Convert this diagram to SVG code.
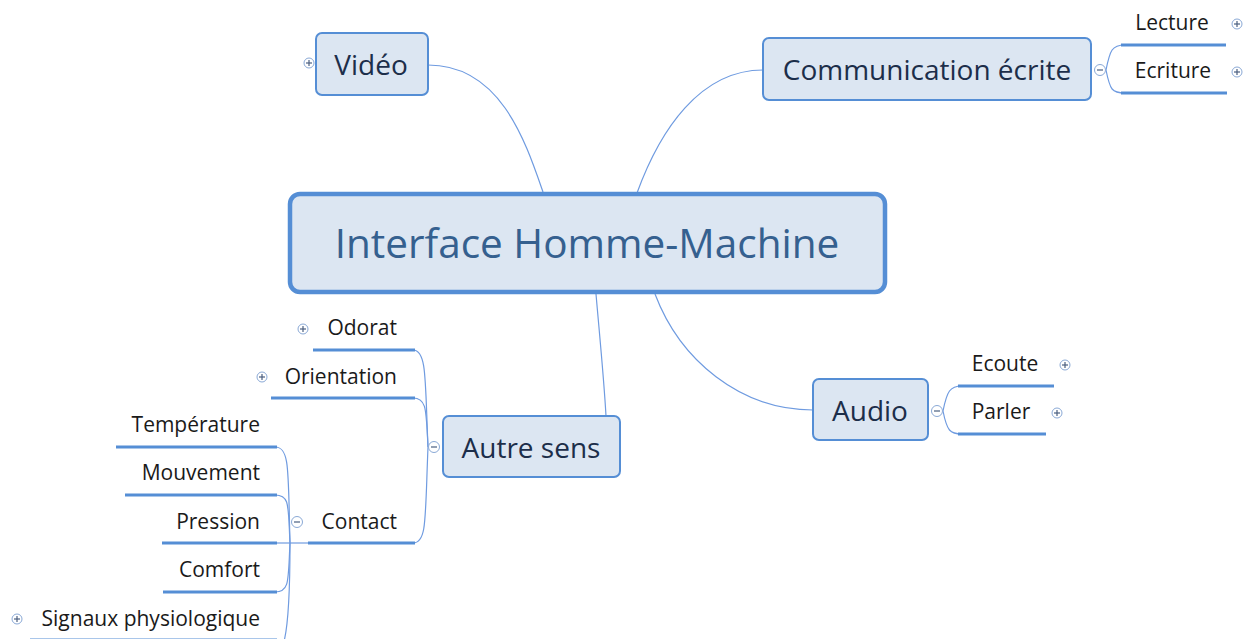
<svg xmlns="http://www.w3.org/2000/svg" width="1244" height="639" viewBox="0 0 1244 639">
<style>
.bg{fill:#ffffff}
.main{fill:#dce6f2;stroke:#558ed5;stroke-width:2}
.central{fill:#dce6f2;stroke:#558ed5;stroke-width:4.5}
.conn{fill:none;stroke:#6f9be0;stroke-width:1.2}
.ul{fill:none;stroke:#558ed5;stroke-width:3}
.t{font-family:"Open Sans","Liberation Sans",sans-serif}
.ct{font-size:40.5px;fill:#35608f;text-anchor:middle}
.mt{font-size:28px;fill:#1c2e4a;text-anchor:middle}
.st{font-size:21px;fill:#1a1a1a}
.ic{fill:#ffffff;stroke:#8aa9d6;stroke-width:1}
.icl{stroke:#4a5f80;stroke-width:1.2}
</style>
<defs>
<g id="plus"><circle class="ic" cx="0" cy="0" r="5"/><line class="icl" x1="-3" y1="0" x2="3" y2="0"/><line class="icl" x1="0" y1="-3" x2="0" y2="3"/></g>
<g id="minus"><circle class="ic" cx="0" cy="0" r="5.5"/><line class="icl" x1="-3" y1="0" x2="3" y2="0"/></g>
</defs>
<rect class="bg" x="0" y="0" width="1244" height="639"/>
<g id="connectors">
<path class="conn" d="M428,65 C500,65 525,140 543,192"/>
<path class="conn" d="M763,70 C700,70 660,130 637,193"/>
<path class="conn" d="M655,294 C680,360 740,410 813,410"/>
<path class="conn" d="M596,294 C600,340 604,380 606,416"/>
<path class="conn" d="M1106,70 C1110,50 1112,45 1125,45"/>
<path class="conn" d="M1106,70 C1110,90 1112,93 1125,93"/>
<path class="conn" d="M943,411 C947,391 950,386 962,386"/>
<path class="conn" d="M943,411 C947,431 950,434 962,434"/>
<path class="conn" d="M428,447 C425,380 427,350 413,350"/>
<path class="conn" d="M428,447 C426,410 427,398 413,398"/>
<path class="conn" d="M428,447 C425,520 427,543 413,543"/>
<path class="conn" d="M308,543 L277,543"/>
<path class="conn" d="M290,543 C288,470 290,447 275,447"/>
<path class="conn" d="M290,543 C288,505 290,495 275,495"/>
<path class="conn" d="M290,543 C288,580 290,592 275,592"/>
<path class="conn" d="M290,543 C290,600 288,630 283,645"/>
</g>
<g id="central">
<rect class="central" x="290" y="194" width="595" height="98" rx="10"/>
<text class="t ct" x="587" y="258">Interface Homme-Machine</text>
</g>
<g id="video">
<rect class="main" x="316" y="33" width="112" height="62" rx="6"/>
<text class="t mt" x="371" y="75">Vidéo</text>
<use href="#plus" x="309" y="63"/>
</g>
<g id="communication">
<rect class="main" x="763" y="38" width="328" height="62" rx="6"/>
<text class="t mt" x="927" y="80">Communication écrite</text>
<use href="#minus" x="1100" y="70"/>
</g>
<g id="lecture">
<text class="t st" x="1172" y="30" text-anchor="middle">Lecture</text>
<line class="ul" x1="1121" y1="45" x2="1226" y2="45"/>
<use href="#plus" x="1237" y="24"/>
</g>
<g id="ecriture">
<text class="t st" x="1173" y="78" text-anchor="middle">Ecriture</text>
<line class="ul" x1="1121" y1="93" x2="1227" y2="93"/>
<use href="#plus" x="1237" y="72"/>
</g>
<g id="audio">
<rect class="main" x="813" y="379" width="115" height="61" rx="6"/>
<text class="t mt" x="870" y="421">Audio</text>
<use href="#minus" x="937" y="411"/>
</g>
<g id="ecoute">
<text class="t st" x="1005" y="371" text-anchor="middle">Ecoute</text>
<line class="ul" x1="958" y1="386" x2="1054" y2="386"/>
<use href="#plus" x="1065" y="365"/>
</g>
<g id="parler">
<text class="t st" x="1001" y="419" text-anchor="middle">Parler</text>
<line class="ul" x1="958" y1="434" x2="1046" y2="434"/>
<use href="#plus" x="1057" y="413"/>
</g>
<g id="autre-sens">
<rect class="main" x="443" y="416" width="177" height="61" rx="6"/>
<text class="t mt" x="531" y="458">Autre sens</text>
<use href="#minus" x="434" y="447"/>
</g>
<g id="odorat">
<text class="t st" x="397" y="335" text-anchor="end">Odorat</text>
<line class="ul" x1="313" y1="350" x2="415" y2="350"/>
<use href="#plus" x="303" y="329"/>
</g>
<g id="orientation">
<text class="t st" x="397" y="384" text-anchor="end">Orientation</text>
<line class="ul" x1="271" y1="398" x2="415" y2="398"/>
<use href="#plus" x="262" y="377"/>
</g>
<g id="contact">
<text class="t st" x="397" y="529" text-anchor="end">Contact</text>
<line class="ul" x1="308" y1="543" x2="415" y2="543"/>
<use href="#minus" x="297" y="522"/>
</g>
<g id="temperature">
<text class="t st" x="260" y="432" text-anchor="end">Température</text>
<line class="ul" x1="116" y1="447" x2="277" y2="447"/>
</g>
<g id="mouvement">
<text class="t st" x="260" y="480" text-anchor="end">Mouvement</text>
<line class="ul" x1="125" y1="495" x2="277" y2="495"/>
</g>
<g id="pression">
<text class="t st" x="260" y="529" text-anchor="end">Pression</text>
<line class="ul" x1="162" y1="543" x2="277" y2="543"/>
</g>
<g id="comfort">
<text class="t st" x="260" y="577" text-anchor="end">Comfort</text>
<line class="ul" x1="163" y1="592" x2="277" y2="592"/>
</g>
<g id="signaux">
<text class="t st" x="260" y="626" text-anchor="end">Signaux physiologique</text>
<line class="ul" x1="30" y1="640" x2="277" y2="640"/>
<use href="#plus" x="17" y="619"/>
</g>
</svg>
